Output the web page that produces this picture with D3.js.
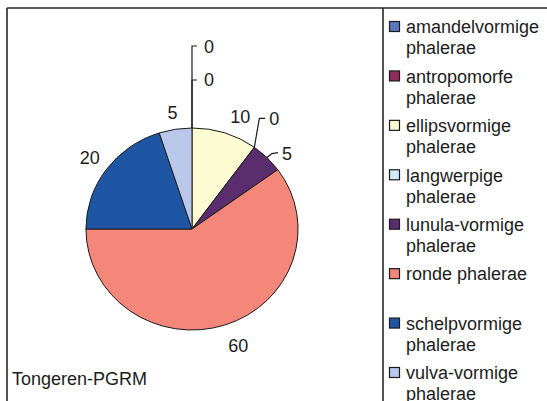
<!DOCTYPE html>
<html>
<head>
<meta charset="utf-8">
<script src="https://cdn.jsdelivr.net/npm/d3@7"></script>
<style>
  html, body { margin: 0; padding: 0; background: #fff; }
  svg { display: block; font-family: "Liberation Sans", Arial, sans-serif; }
</style>
</head>
<body>
<svg id="chart" width="547" height="401"></svg>
<script>
// Phalerae types found at Tongeren-PGRM
const categories = [
  "amandelvormige phalerae",
  "antropomorfe phalerae",
  "ellipsvormige phalerae",
  "langwerpige phalerae",
  "lunula-vormige phalerae",
  "ronde phalerae",
  "schelpvormige phalerae",
  "vulva-vormige phalerae"
];
const values = [0, 0, 10, 0, 5, 60, 20, 5];
const colors = ["#5a78c0", "#8e2f5c", "#fdfbd2", "#d4ecfa", "#5a2e6e", "#f4877a", "#1f56a3", "#b9c8ea"];
const legendLines = [
  ["amandelvormige", "phalerae"],
  ["antropomorfe", "phalerae"],
  ["ellipsvormige", "phalerae"],
  ["langwerpige", "phalerae"],
  ["lunula-vormige", "phalerae"],
  ["ronde phalerae"],
  ["schelpvormige", "phalerae"],
  ["vulva-vormige", "phalerae"]
];
const title = "Tongeren-PGRM";

const svg = d3.select("#chart");
const ink = "#1c1c1c";

// Frame lines: plot area top/left and legend separator
const frame = svg.append("g").attr("stroke", "#262626").attr("stroke-width", 1.6).attr("fill", "none");
frame.append("line").attr("x1", 7).attr("y1", 8).attr("x2", 547).attr("y2", 8);
frame.append("line").attr("x1", 7).attr("y1", 8).attr("x2", 7).attr("y2", 401);
frame.append("line").attr("x1", 383).attr("y1", 8).attr("x2", 383).attr("y2", 401);

// Pie geometry (slightly wider than tall)
const cx = 192, cy = 229, ry = 101, sx = 1.05;
const pie = d3.pie().sort(null).value(d => d)(values);
const arc = d3.arc().innerRadius(0).outerRadius(ry);

const pieG = svg.append("g")
  .attr("transform", `translate(${cx},${cy}) scale(${sx},1)`);

pieG.selectAll("path")
  .data(pie.filter(d => d.value > 0))
  .join("path")
  .attr("d", arc)
  .attr("fill", d => colors[d.index])
  .attr("stroke", "#1a1a1a")
  .attr("stroke-width", 1)
  .attr("vector-effect", "non-scaling-stroke");

// Point on the pie outline at a given angle / radius
function pt(angle, r) {
  return [cx + Math.sin(angle) * r * sx, cy - Math.cos(angle) * r];
}

const labelG = svg.append("g")
  .attr("font-size", 18)
  .attr("fill", ink);

// Labels for the non-zero slices, placed just outside the rim
const nudges = { 2: [10, 0], 4: null, 5: [8, 4], 6: [-2, -2], 7: [0, 0] };
pie.forEach(d => {
  if (d.value === 0 || d.index === 4) return;
  const mid = (d.startAngle + d.endAngle) / 2;
  const [x, y] = pt(mid, 118);
  const n = nudges[d.index] || [0, 0];
  labelG.append("text")
    .attr("x", x + n[0]).attr("y", y + n[1])
    .attr("text-anchor", "middle")
    .attr("dy", "0.35em")
    .text(d.value);
});

// Small slices and empty categories get leader lines
const leaders = svg.append("g").attr("stroke", ink).attr("stroke-width", 1.2).attr("fill", "none");
function leader(points, textX, textY, txt) {
  leaders.append("path").attr("d", d3.line()(points));
  labelG.append("text")
    .attr("x", textX).attr("y", textY)
    .attr("dy", "0.35em")
    .text(txt);
}

// amandelvormige & antropomorfe (0) at the top of the pie
{
  const a0 = pie[0].startAngle;
  const [x0, y0] = pt(a0, ry);
  leader([[x0, y0], [x0, 46], [x0 + 5, 46]], x0 + 12, 47, pie[0].value);
  leader([[x0, y0], [x0, 80], [x0 + 5, 80]], x0 + 12, 80, pie[1].value);
}
// langwerpige (0) between ellipsvormige and lunula-vormige
{
  const a = pie[3].startAngle;
  const [x0, y0] = pt(a, ry);
  leader([[x0, y0], [x0 + 5, y0 - 29], [x0 + 11, y0 - 29]], x0 + 15, y0 - 29, pie[3].value);
}
// lunula-vormige (5)
{
  const mid = (pie[4].startAngle + pie[4].endAngle) / 2;
  const [x0, y0] = pt(mid, ry);
  leader([[x0, y0], [x0 + 5, y0 - 4], [x0 + 11, y0 - 5]], x0 + 15, y0 - 4, pie[4].value);
}

// Chart title in the lower-left corner
svg.append("text")
  .attr("x", 12).attr("y", 379)
  .attr("dy", "0.35em")
  .attr("font-size", 18)
  .attr("fill", ink)
  .text(title);

// Legend
const legend = svg.append("g").attr("font-size", 18).attr("fill", ink);
const itemY = d3.scaleLinear().domain([0, categories.length - 1]).range([27, 373]);
categories.forEach((c, i) => {
  const y = itemY(i);
  legend.append("rect")
    .attr("x", 389.5).attr("y", y - 5.5)
    .attr("width", 10).attr("height", 10)
    .attr("fill", colors[i])
    .attr("stroke", "#1a1a1a")
    .attr("stroke-width", 1.2);
  legendLines[i].forEach((line, j) => {
    legend.append("text")
      .attr("x", 406).attr("y", y + j * 21)
      .attr("dy", "0.35em")
      .text(line);
  });
});
</script>
</body>
</html>
